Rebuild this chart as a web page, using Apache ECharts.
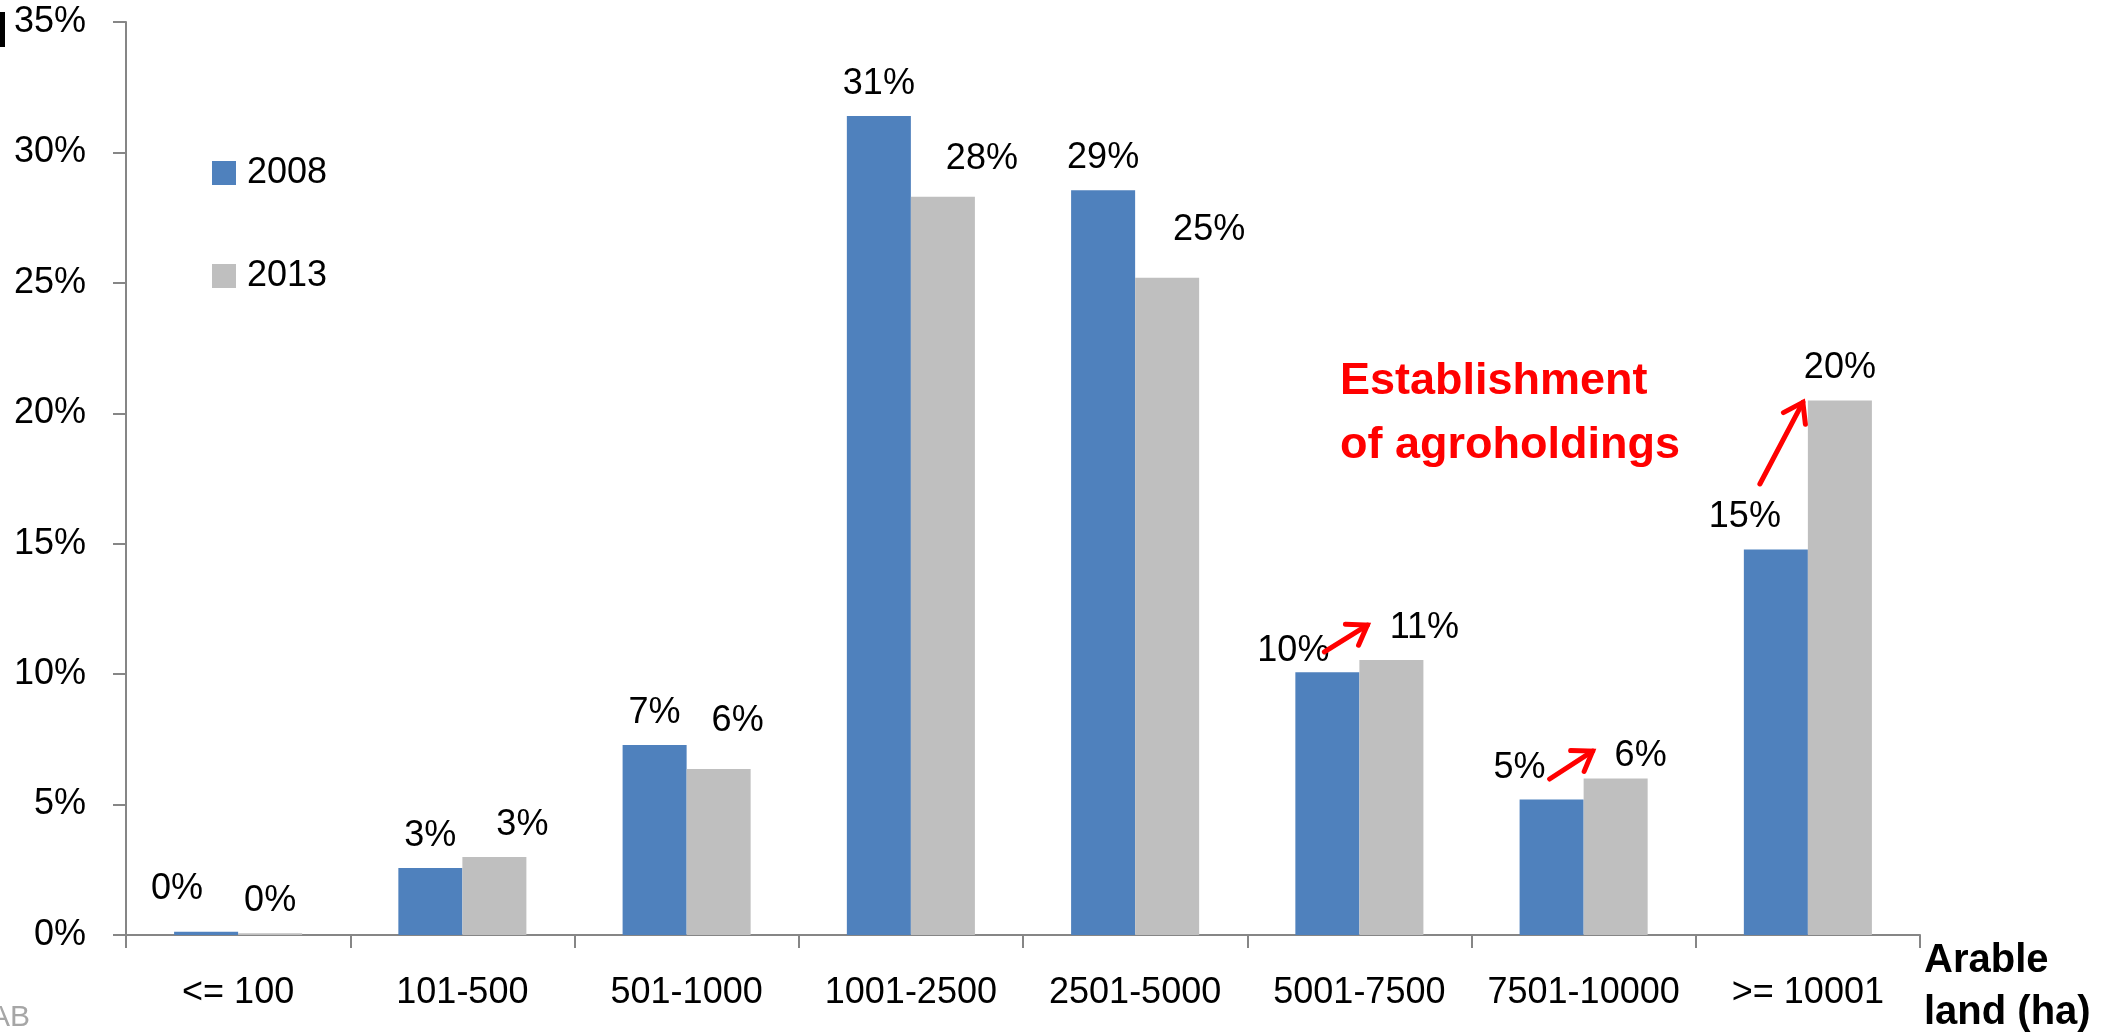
<!DOCTYPE html>
<html>
<head>
<meta charset="utf-8">
<script src="https://cdn.jsdelivr.net/npm/echarts@6/dist/echarts.min.js"></script>
<style>
html,body{margin:0;padding:0;background:#fff;}
#chart{width:2123px;height:1036px;}
</style>
</head>
<body>
<div id="chart"></div>
<script>
// ---- data ----
const categories = ['<= 100', '101-500', '501-1000', '1001-2500', '2501-5000', '5001-7500', '7501-10000', '>= 10001'];
const series2008 = [0.12, 2.57, 7.28, 31.4, 28.55, 10.07, 5.19, 14.78];
const series2013 = [0.07, 2.99, 6.36, 28.3, 25.2, 10.54, 6.0, 20.49];
const seriesNames = ['2008', '2013'];
const yTicks = { min: 0, max: 35, interval: 5 };
const annotationLines = ['Establishment', 'of agroholdings'];
const axisTitle = 'Arable\nland (ha)';

// ---- label placement (style, not data) ----
const offsets2008 = [[-29,-11],[0,0],[0,0],[0,0],[0,0],[-34,11],[-32,0],[-31,0]];
const offsets2013 = [[0,0],[28,0],[19,-16],[39,-6],[42,-16],[33,0],[25,10],[0,0]];
// arrows: [categoryIndex, dxStart, valueStart, dxEnd, valueEnd]
const arrows = [[5,-35,10.85,8,11.88],[6,-34,5.98,9,7.05],[7,-48,17.29,-5,20.42]];

const FONT = 'Liberation Sans';
const chart = echarts.init(document.getElementById('chart'));

function mkData(vals, offs){
  return vals.map((v,i)=>({value:v,label:{offset:offs[i]}}));
}
const labelStyle = {
  show:true, position:'top', distance:14, fontSize:36, lineHeight:36,
  fontFamily:FONT, color:'#000',
  formatter: p => Math.round(p.value) + '%'
};

chart.setOption({
  animation:false,
  backgroundColor:'#fff',
  textStyle:{fontFamily:FONT},
  grid:{left:126,right:203,top:22,bottom:101,containLabel:false,outerBoundsMode:'none'},
  legend:{
    orient:'vertical', left:207, top:150, itemWidth:24, itemHeight:24, itemGap:67,
    icon:'rect',
    textStyle:{fontSize:36, lineHeight:36, color:'#000', fontFamily:FONT, padding:[0,0,0,6]},
    data:seriesNames
  },
  xAxis:{
    type:'category', data:categories,
    axisLine:{lineStyle:{color:'#868686',width:2}},
    axisTick:{show:true,length:13,lineStyle:{color:'#868686',width:2}},
    axisLabel:{fontSize:36,color:'#000',margin:40,fontFamily:FONT,interval:0},
    name:axisTitle, nameLocation:'end', nameGap:4,
    nameTextStyle:{fontSize:40,fontWeight:'bold',color:'#000',align:'left',verticalAlign:'top',lineHeight:52,padding:[0,0,0,0],fontFamily:FONT}
  },
  yAxis:{
    type:'value', min:yTicks.min, max:yTicks.max, interval:yTicks.interval,
    splitLine:{show:false},
    axisLine:{show:true,lineStyle:{color:'#868686',width:2}},
    axisTick:{show:true,length:13,lineStyle:{color:'#868686',width:2}},
    axisLabel:{fontSize:36,color:'#000',margin:40,fontFamily:FONT,formatter:'{value}%'}
  },
  series:[
    {name:seriesNames[0],type:'bar',data:mkData(series2008,offsets2008),barGap:'0%',barCategoryGap:'42.9%',
     itemStyle:{color:'#4F81BD'},label:labelStyle},
    {name:seriesNames[1],type:'bar',data:mkData(series2013,offsets2013),barGap:'0%',barCategoryGap:'42.9%',
     itemStyle:{color:'#BFBFBF'},label:labelStyle}
  ]
});

// annotations
const g = [];
arrows.forEach(a=>{
  const p0 = chart.convertToPixel({gridIndex:0},[a[0],a[2]]);
  const p1 = chart.convertToPixel({gridIndex:0},[a[0],a[4]]);
  const x0=p0[0]+a[1], y0=p0[1], x1=p1[0]+a[3], y1=p1[1];
  const ang = Math.atan2(y1-y0,x1-x0);
  const L=22, sp=0.6;
  const h1=[x1-L*Math.cos(ang-sp), y1-L*Math.sin(ang-sp)];
  const h2=[x1-L*Math.cos(ang+sp), y1-L*Math.sin(ang+sp)];
  g.push({type:'line',shape:{x1:x0,y1:y0,x2:x1,y2:y1},style:{stroke:'#FF0000',lineWidth:5,lineCap:'round'},z:100});
  g.push({type:'polyline',shape:{points:[h1,[x1,y1],h2]},style:{stroke:'#FF0000',fill:null,lineWidth:5,lineCap:'round',lineJoin:'miter'},z:100});
});
g.push({type:'text',left:1340,top:350,z:100,style:{text:annotationLines.join('\n'),fill:'#FF0000',font:'bold 45px "Liberation Sans"',lineHeight:64}});
g.push({type:'rect',shape:{x:0,y:12,width:5,height:35},style:{fill:'#000'}});
g.push({type:'text',left:-10,top:1003,style:{text:'AB',fill:'#A6A6A6',font:'30px "Liberation Sans"'}});
chart.setOption({graphic:g});
</script>
</body>
</html>
